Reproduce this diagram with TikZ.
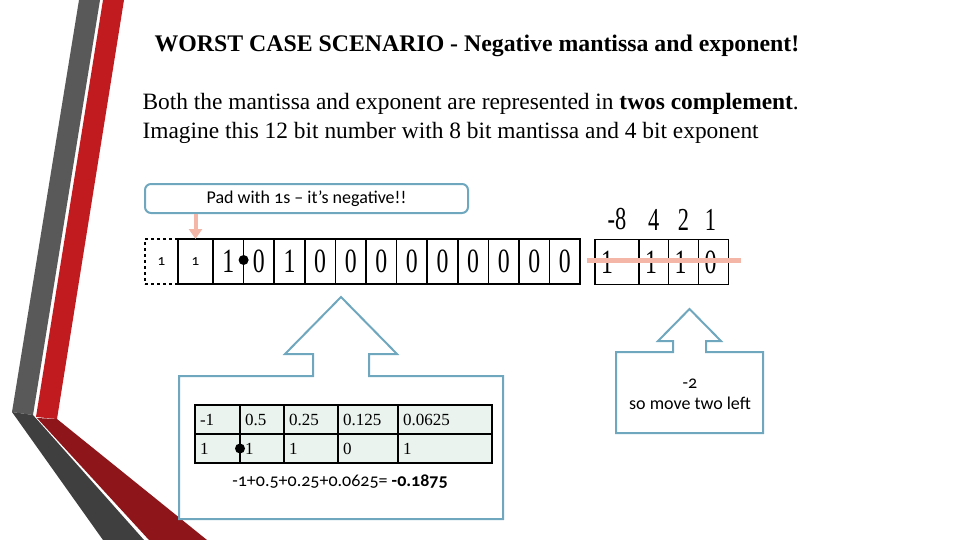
\documentclass[tikz,border=0pt]{standalone}
\usepackage{fontspec}
\setmainfont{Liberation Serif}
\newfontfamily\calib[Numbers=OldStyle]{Carlito}
\newfontfamily\slim[FakeStretch=0.7]{Liberation Serif}
\usetikzlibrary{arrows.meta,positioning}

\definecolor{calloutblue}{HTML}{6FA8BE}
\definecolor{padpink}{HTML}{F4B6A6}
\definecolor{tablemint}{HTML}{EAF3EE}
\definecolor{bargrey}{HTML}{595959}
\definecolor{bargreydark}{HTML}{3F3F3F}
\definecolor{barred}{HTML}{C11B20}
\definecolor{barreddark}{HTML}{8E1519}

\begin{document}
\begin{tikzpicture}[
  x=1pt,y=-1pt,
  node distance=0pt,
  bitcell/.style={draw,line width=1.6pt,minimum width=30.6pt,minimum height=45pt,inner sep=0pt,outer sep=0pt,font=\slim\fontsize{34}{34}\selectfont},
  padcell/.style={draw,line width=1.6pt,minimum height=45pt,inner sep=0pt,outer sep=0pt,font=\calib\fontsize{15}{15}\selectfont},
  expcell/.style={draw,line width=1.6pt,minimum height=45pt,inner xsep=6pt,inner ysep=0pt,outer sep=0pt,align=left,font=\slim\fontsize{34}{34}\selectfont},
  explabel/.style={font=\slim\fontsize{32}{32}\selectfont,inner sep=0pt},
  tabcell/.style={draw,line width=1.6pt,fill=tablemint,minimum height=29pt,inner xsep=5pt,inner ysep=0pt,outer sep=0pt,align=left,font=\fontsize{17}{17}\selectfont},
  note/.style={font=\calib\fontsize{18}{21}\selectfont,align=center},
  callout/.style={draw=calloutblue,line width=2pt,line join=miter},
  dotmark/.style={circle,fill=black,minimum size=10pt,inner sep=0pt},
  arr/.style={-{Triangle[length=10pt,width=13pt]},line width=4pt,draw=padpink}
]
\useasboundingbox (0,0) rectangle (960,540);
% side bars
\fill[bargrey] (79,0) -- (100,0) -- (33,415) -- (12,412) -- cycle;
\fill[barred] (103,0) -- (124,0) -- (57,419) -- (36,417) -- cycle;
\fill[bargreydark] (12,412) -- (33,415) -- (144,540) -- (103,540) -- cycle;
\fill[barreddark] (37,418) -- (57,419) -- (207,540) -- (149,540) -- cycle;

% heading
\node[font=\bfseries\fontsize{23.8}{28}\selectfont] (title) at (477,46) {WORST CASE SCENARIO - Negative mantissa and exponent!};
\node[anchor=west,align=left,font=\fontsize{23.4}{29}\selectfont] (intro) at (139,118)
  {Both the mantissa and exponent are represented in \textbf{twos complement}.\\
   Imagine this 12 bit number with 8 bit mantissa and 4 bit exponent};

% mantissa
\node[bitcell] (m1) at (228.3,261.5) {1};
\node[bitcell,right=of m1] (m2) {0};
\node[bitcell,right=of m2] (m3) {1};
\node[bitcell,right=of m3] (m4) {0};
\node[bitcell,right=of m4] (m5) {0};
\node[bitcell,right=of m5] (m6) {0};
\node[bitcell,right=of m6] (m7) {0};
\node[bitcell,right=of m7] (m8) {0};
\node[bitcell,right=of m8] (m9) {0};
\node[bitcell,right=of m9] (m10) {0};
\node[bitcell,right=of m10] (m11) {0};
\node[bitcell,right=of m11] (m12) {0};
\node[padcell,minimum width=35pt,left=of m1] (p2) {1};
\node[padcell,minimum width=33pt,dashed,left=of p2] (p1) {1};
\node[dotmark] (mdot) at ([yshift=1.5pt]m1.east) {};

% exponent
\node[expcell,text width=32pt] (e1) at (617,262) {1};
\node[expcell,text width=17.5pt,right=of e1] (e2) {1};
\node[expcell,text width=18pt,right=of e2] (e3) {1};
\node[expcell,text width=18pt,right=of e3] (e4) {0};
\node[explabel,above=9pt of e1] (l1) {-8};
\node[explabel,above=9pt of e2] (l2) {4};
\node[explabel,above=9pt of e3] (l3) {2};
\node[explabel,above=9pt of e4,xshift=-3pt] (l4) {1};
\draw[padpink,line width=5pt] ([xshift=-8pt,yshift=2pt]e1.west) -- ([xshift=12pt,yshift=2pt]e4.east);

% pad note
\node[draw=calloutblue,line width=2pt,rounded corners=6pt,minimum width=323pt,minimum height=29pt,font=\calib\fontsize{18}{20}\selectfont] (pad) at (306.5,198.5) {Pad with 1s – it’s negative!!};
\draw[arr] (pad.south -| p2) -- (p2.north);

% mantissa callout
\draw[callout] (179,376) -- (313,376) -- (313,354) -- (285,354) -- (341,297) -- (397,354) -- (369,354) -- (369,376) -- (503,376) -- (503,519) -- (179,519) -- cycle;
\node[tabcell,text width=35pt] (t11) at (217.5,419.5) {-1};
\node[tabcell,text width=34pt,right=of t11] (t12) {0.5};
\node[tabcell,text width=44pt,right=of t12] (t13) {0.25};
\node[tabcell,text width=50pt,right=of t13] (t14) {0.125};
\node[tabcell,text width=84pt,right=of t14] (t15) {0.0625};
\node[tabcell,text width=35pt,below=of t11] (t21) {1};
\node[tabcell,text width=34pt,right=of t21] (t22) {1};
\node[tabcell,text width=44pt,right=of t22] (t23) {1};
\node[tabcell,text width=50pt,right=of t23] (t24) {0};
\node[tabcell,text width=84pt,right=of t24] (t25) {1};
\node[dotmark] (tdot) at (t21.east) {};
\node[note] (sum) at (340,482) {-1+0.5+0.25+0.0625= \textbf{-0.1875}};

% exponent callout
\draw[callout] (616,352) -- (673,352) -- (673,341) -- (658,341) -- (689.5,309) -- (721,341) -- (706,341) -- (706,352) -- (763,352) -- (763,433) -- (616,433) -- cycle;
\node[note] (shift) at (690,394) {-2\\so move two left};
\end{tikzpicture}
\end{document}
